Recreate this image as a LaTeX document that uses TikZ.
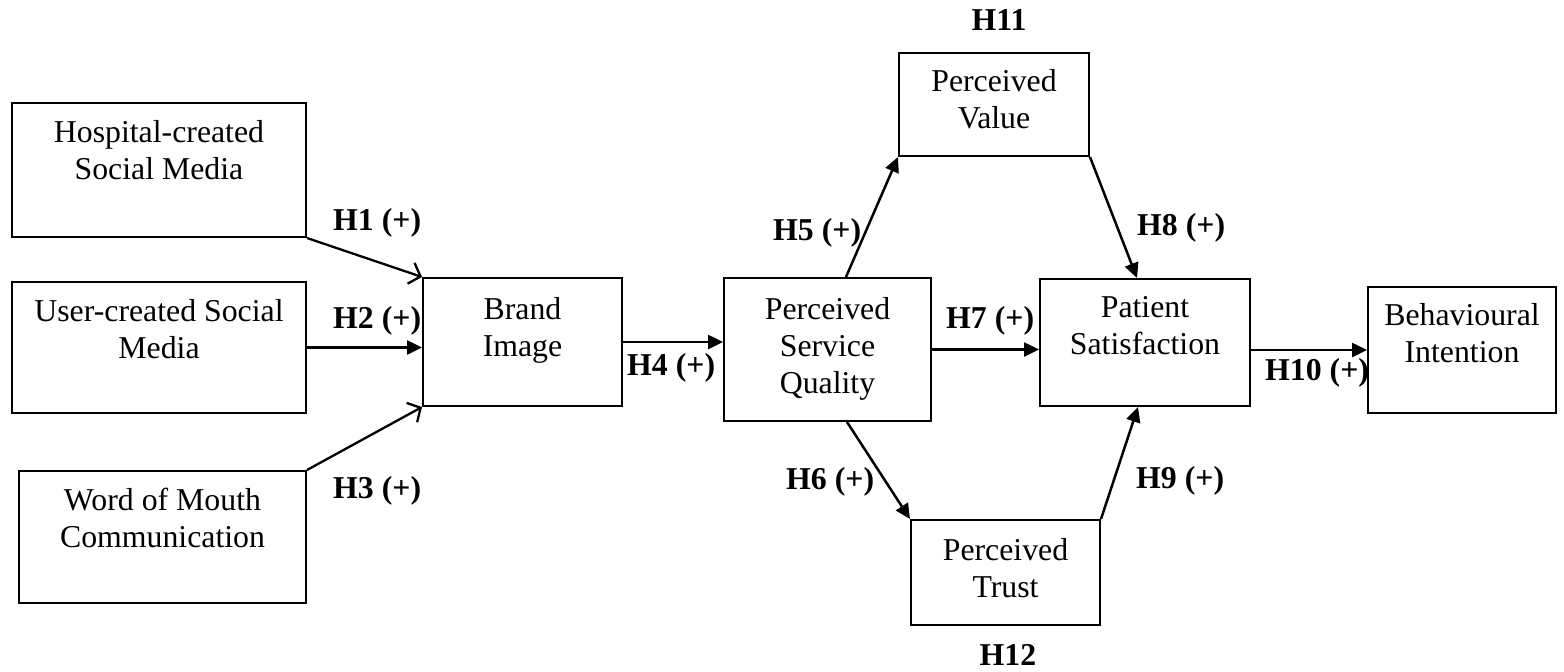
\documentclass[tikz,border=0pt]{standalone}
\usepackage{fontspec}
\setmainfont{Liberation Serif}
\usetikzlibrary{arrows.meta,calc}
\tikzset{
  box/.style={draw=black, line width=2pt, inner sep=0pt, rectangle},
  txt/.style={inner sep=0pt, align=center, anchor=north, font=\fontsize{31.8}{37}\selectfont},
  lab/.style={inner sep=0pt, anchor=base west, font=\fontsize{31.8}{37}\selectfont\bfseries},
  solidarrow/.style={line width=2.5pt, -{Triangle[length=15pt,width=14pt]}},
  openarrow/.style={line width=2.3pt, -{Straight Barb[length=10pt,width=22pt,line width=2.3pt]}}
}
\begin{document}
\begin{tikzpicture}[x=1pt,y=-1pt]
\useasboundingbox (0,0) rectangle (1564,672);
% boxes
\node[box, minimum width=294pt, minimum height=134pt] (hosp) at (159,170) {};
\node[box, minimum width=294pt, minimum height=131pt] (user) at (159,347.5) {};
\node[box, minimum width=287pt, minimum height=132pt] (word) at (162.5,537) {};
\node[box, minimum width=199pt, minimum height=128pt] (brand) at (522.5,342) {};
\node[box, minimum width=207pt, minimum height=143pt] (psq) at (827.5,349.5) {};
\node[box, minimum width=190pt, minimum height=103pt] (pv) at (994,104.5) {};
\node[box, minimum width=189pt, minimum height=105pt] (pt) at (1005.5,572.5) {};
\node[box, minimum width=210pt, minimum height=127pt] (ps) at (1145,342.5) {};
\node[box, minimum width=188pt, minimum height=126pt] (bi) at (1462,350) {};
% box texts
\node[txt] (hospT) at ([yshift=-14pt]hosp.north) {\strut Hospital-created\\\strut Social Media};
\node[txt] (userT) at ([yshift=-14pt]user.north) {\strut User-created Social\\\strut Media};
\node[txt] (wordT) at ([yshift=-14pt]word.north) {\strut Word of Mouth\\\strut Communication};
\node[txt] (brandT) at ([yshift=-16pt]brand.north) {\strut Brand\\\strut Image};
\node[txt] (psqT) at ([yshift=-16pt]psq.north) {\strut Perceived\\\strut Service\\\strut Quality};
\node[txt] (pvT) at ([yshift=-13pt]pv.north) {\strut Perceived\\\strut Value};
\node[txt] (ptT) at ([yshift=-15pt]pt.north) {\strut Perceived\\\strut Trust};
\node[txt] (psT) at ([yshift=-13pt]ps.north) {\strut Patient\\\strut Satisfaction};
\node[txt] (biT) at ([yshift=-13pt]bi.north) {\strut Behavioural\\\strut Intention};
% connectors
\draw[openarrow] (hosp.south east) -- (brand.north west);
\draw[solidarrow] (user.east) -- (user.east -| brand.west);
\draw[openarrow] (word.north east) -- (brand.south west);
\draw[solidarrow] (brand.east) -- (brand.east -| psq.west);
\draw[solidarrow] ([xshift=18.5pt]psq.north) -- (pv.south west);
\draw[solidarrow] ([xshift=19.5pt]psq.south) -- (pt.north west);
\draw[solidarrow] (psq.east) -- (psq.east -| ps.west);
\draw[solidarrow] (pv.south east) -- ([xshift=-8pt]ps.north);
\draw[solidarrow] (pt.north east) -- ([xshift=-7pt]ps.south);
\draw[solidarrow] (bi.west -| ps.east) -- (bi.west);
% labels
\node[lab] (h1) at (333,230) {H1 (+)};
\node[lab] (h2) at (333,328) {H2 (+)};
\node[lab] (h3) at (333,498) {H3 (+)};
\node[lab] (h4) at (627,375) {H4 (+)};
\node[lab] (h5) at (773,240) {H5 (+)};
\node[lab] (h6) at (786,489) {H6 (+)};
\node[lab] (h7) at (946,328) {H7 (+)};
\node[lab] (h8) at (1137,235) {H8 (+)};
\node[lab] (h9) at (1136,488) {H9 (+)};
\node[lab] (h10) at (1265,380) {H10 (+)};
\node[lab, anchor=base] (h11) at (999,30) {H11};
\node[lab, anchor=base] (h12) at (1008,665) {H12};
\end{tikzpicture}
\end{document}
